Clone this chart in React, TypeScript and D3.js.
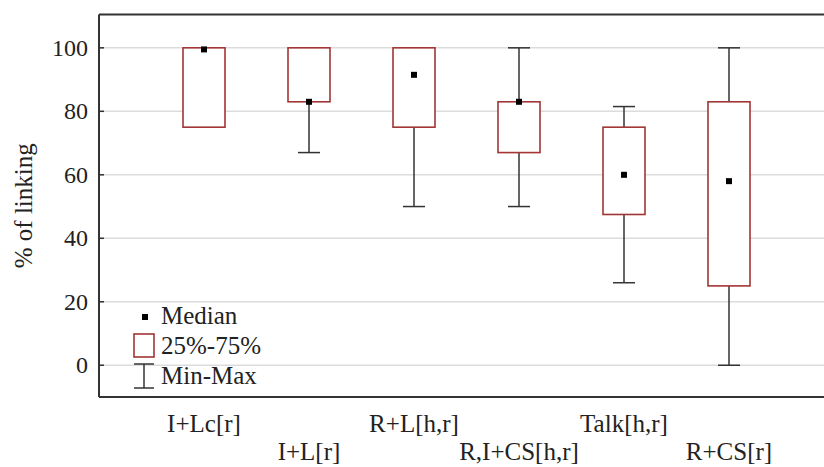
import * as d3 from 'd3';
import React from 'react';

// categories and box statistics (% of linking)
const categories = ['I+Lc[r]', 'I+L[r]', 'R+L[h,r]', 'R,I+CS[h,r]', 'Talk[h,r]', 'R+CS[r]'];
const minValues = [75, 67, 50, 50, 26, 0];
const q1Values = [75, 83, 75, 67, 47.5, 25];
const medianValues = [99.5, 83, 91.5, 83, 60, 58];
const q3Values = [100, 100, 100, 83, 75, 83];
const maxValues = [100, 100, 100, 100, 81.5, 100];
const yTicks = [0, 20, 40, 60, 80, 100];

const width = 824;
const height = 467;
const left = 99;
const top = 14.5;
const bottom = 397;
const right = 834;

const boxColor = '#a33535';
const lineColor = '#333';
const font = '"Liberation Serif", "Times New Roman", serif';

export default function App() {
  const x = d3.scalePoint<string>().domain(categories).range([left, right]).padding(1);
  const y = d3.scaleLinear().domain([-10, 110.5]).range([bottom, top]);

  const boxW = 42;
  const capW = 22;

  return (
    <svg
      width={width}
      height={height}
      style={{ position: 'absolute', left: 0, top: 0, background: '#fff' }}
      fontFamily={font}
    >
      {/* grid */}
      {yTicks.map((t) => (
        <line key={'g' + t} x1={left} x2={width} y1={y(t)} y2={y(t)} stroke="#dcdcdc" strokeWidth={1.5} />
      ))}
      {/* frame */}
      <line x1={left} x2={width} y1={top} y2={top} stroke={lineColor} strokeWidth={2} />
      <line x1={left} x2={width} y1={bottom} y2={bottom} stroke={lineColor} strokeWidth={2} />
      <line x1={left} x2={left} y1={top} y2={bottom} stroke={lineColor} strokeWidth={2} />
      {yTicks.map((t) => (
        <g key={'t' + t}>
          <line x1={left} x2={left + 5} y1={y(t)} y2={y(t)} stroke={lineColor} strokeWidth={1.5} />
          <text x={88} y={y(t)} dy="0.34em" textAnchor="end" fontSize={24} fill="#222">
            {t}
          </text>
        </g>
      ))}
      <text
        transform={`translate(32,${(top + bottom) / 2}) rotate(-90)`}
        textAnchor="middle"
        fontSize={25}
        fill="#222"
      >
        % of linking
      </text>

      {/* boxes */}
      {categories.map((c, i) => {
        const cx = x(c) as number;
        return (
          <g key={c}>
            <line x1={cx} x2={cx} y1={y(maxValues[i])} y2={y(minValues[i])} stroke={lineColor} strokeWidth={1.5} />
            <line x1={cx - capW / 2} x2={cx + capW / 2} y1={y(maxValues[i])} y2={y(maxValues[i])} stroke={lineColor} strokeWidth={1.5} />
            <line x1={cx - capW / 2} x2={cx + capW / 2} y1={y(minValues[i])} y2={y(minValues[i])} stroke={lineColor} strokeWidth={1.5} />
            <rect
              x={cx - boxW / 2}
              y={y(q3Values[i])}
              width={boxW}
              height={y(q1Values[i]) - y(q3Values[i])}
              fill="#fff"
              stroke={boxColor}
              strokeWidth={1.6}
            />
            <rect x={cx - 3} y={y(medianValues[i]) - 3} width={6} height={6} fill="#000" />
            <text
              x={cx}
              y={i % 2 === 0 ? 432 : 460}
              textAnchor="middle"
              fontSize={25}
              fill="#222"
            >
              {c}
            </text>
          </g>
        );
      })}

      {/* legend */}
      <rect x={142} y={314} width={6} height={6} fill="#000" />
      <text x={161} y={324} fontSize={25} fill="#222">Median</text>
      <rect x={134} y={334} width={20} height={23} fill="#fff" stroke={boxColor} strokeWidth={1.6} />
      <text x={161} y={354} fontSize={25} fill="#222">25%-75%</text>
      <line x1={144} x2={144} y1={364} y2={388} stroke={lineColor} strokeWidth={1.5} />
      <line x1={134} x2={154} y1={364} y2={364} stroke={lineColor} strokeWidth={1.5} />
      <line x1={134} x2={154} y1={388} y2={388} stroke={lineColor} strokeWidth={1.5} />
      <text x={161} y={384} fontSize={25} fill="#222">Min-Max</text>
    </svg>
  );
}
